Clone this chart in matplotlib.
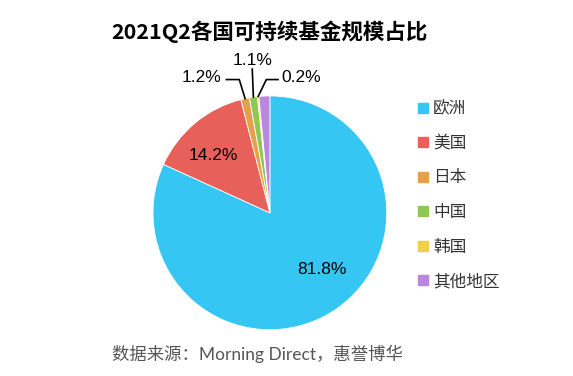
import numpy as np
import matplotlib.pyplot as plt
from matplotlib.lines import Line2D

plt.rcParams['font.family'] = ['Noto Sans CJK SC', 'DejaVu Sans']

regions = ['欧洲', '美国', '日本', '中国', '韩国', '其他地区']
shares = [81.8, 14.2, 1.2, 1.1, 0.2, 1.5]
colors = ['#35c6f4', '#e8605a', '#e6a04c', '#8ec853', '#f0cf4b', '#bb86e0']
# which slices get labels inside / outside
inner = [0, 1]
outer = {2: 'left', 3: 'up', 4: 'right'}

fig = plt.figure(figsize=(5.73, 3.76), dpi=100)
ax = fig.add_axes([0.471 - 0.204, 0.434 - 0.311, 0.408, 0.622])
wedges, _ = ax.pie(shares, colors=colors, startangle=90, counterclock=False,
                   wedgeprops=dict(edgecolor='white', linewidth=0.6))
ax.set_xlim(-1, 1)
ax.set_ylim(-1, 1)
ax.set_aspect('equal')
ax.axis('off')

pct_font = dict(family='Liberation Sans', fontsize=12.5, color='black')

for i in inner:
    w = wedges[i]
    mid = np.deg2rad((w.theta1 + w.theta2) / 2)
    r = 0.66
    if i == 0:
        mid += np.deg2rad(10)
    else:
        mid += np.deg2rad(5)
        r = 0.69
    ax.text(r * np.cos(mid), r * np.sin(mid), '%.1f%%' % shares[i],
            ha='center', va='center', **pct_font)

line_kw = dict(color='black', lw=1.2, clip_on=False)
for i, side in outer.items():
    w = wedges[i]
    mid = np.deg2rad((w.theta1 + w.theta2) / 2)
    x0, y0 = np.cos(mid), np.sin(mid)
    if side == 'left':
        ex, ey = x0 - 0.05, 1.14
        hx = ex - 0.11
        ax.plot([x0, ex, hx], [y0, ey, ey], **line_kw)
        ax.text(hx - 0.04, ey + 0.02, '%.1f%%' % shares[i], ha='right', va='center', **pct_font)
    elif side == 'up':
        ey = 1.23
        ax.plot([x0, x0 - 0.01], [y0, ey], **line_kw)
        ax.text(x0 - 0.01, ey + 0.01, '%.1f%%' % shares[i], ha='center', va='bottom', **pct_font)
    else:
        ex, ey = x0 + 0.07, 1.14
        hx = ex + 0.1
        ax.plot([x0, ex, hx], [y0, ey, ey], **line_kw)
        ax.text(hx + 0.03, ey + 0.02, '%.1f%%' % shares[i], ha='left', va='center', **pct_font)

handles = [Line2D([], [], marker='s', linestyle='none', markersize=7,
                  markerfacecolor=c, markeredgecolor=c) for c in colors]
fig.legend(handles, regions, loc='upper left', bbox_to_anchor=(0.715, 0.755),
           frameon=False, fontsize=12, handlelength=0.6, handletextpad=0.3,
           labelspacing=1.05, borderpad=0, labelcolor='#333333')

fig.text(0.195, 0.915, '2021Q2各国可持续基金规模占比', fontsize=15.5,
         fontweight='bold', ha='left', va='center', color='black')
fig.text(0.195, 0.058, '数据来源：Morning Direct，惠誉博华', fontsize=12.5,
         ha='left', va='center', color='#555555',
         family=['Lato', 'Noto Sans CJK SC', 'DejaVu Sans'])

fig.savefig('out.png', dpi=100)
